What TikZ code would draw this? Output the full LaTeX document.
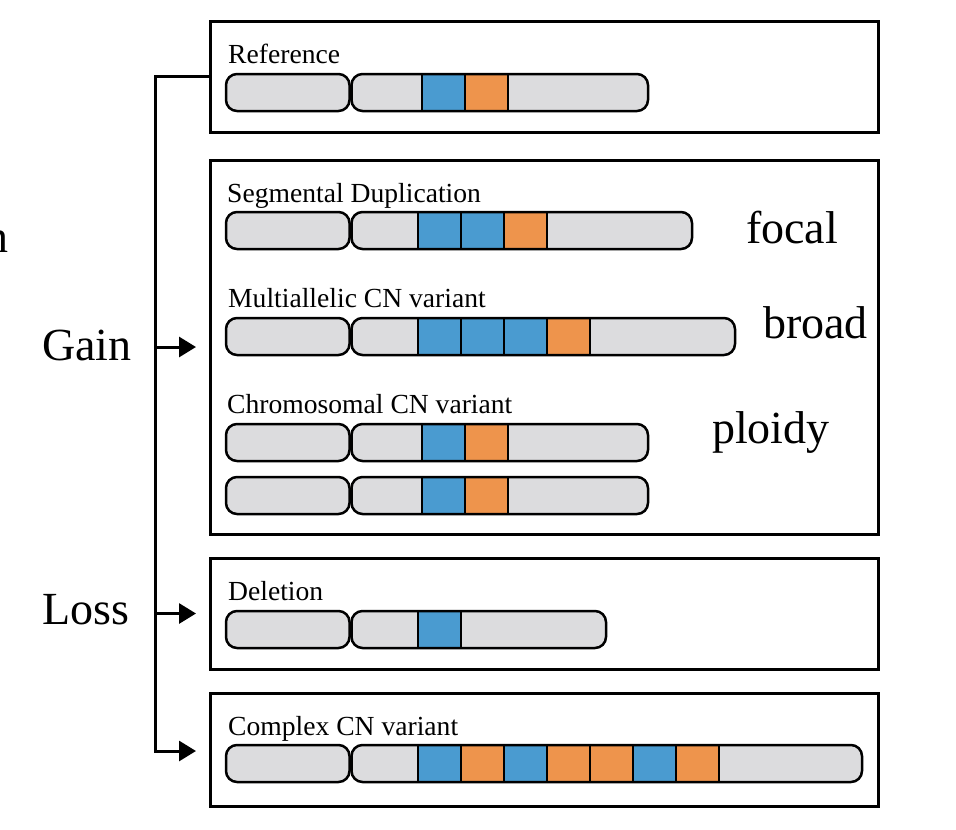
\documentclass[tikz,border=0pt]{standalone}
\usepackage{fontspec}
\setmainfont{Liberation Serif}
\usetikzlibrary{arrows.meta}
\definecolor{cgrey}{HTML}{DCDCDE}
\definecolor{cblue}{HTML}{4A9BD0}
\definecolor{corange}{HTML}{EE944C}
\tikzset{
 panel/.style={draw,line width=3pt,rectangle,minimum width=668pt,anchor=north west,inner sep=0pt,outer sep=0pt},
 lab/.style={anchor=base west,inner sep=0pt,font=\fontsize{27.6}{30}\selectfont},
 big/.style={anchor=base west,inner sep=0pt,font=\fontsize{46}{50}\selectfont},
 arm/.style={draw,line width=2.5pt,rounded corners=11pt},
 conn/.style={line width=3pt},
 tip/.style={-{Triangle[length=17pt,width=20pt]},shorten >=14pt}
}
% #1 top y, #2 end x, #3 first segment x, #4 colour list
\newcommand{\chromo}[4]{%
 \fill[cgrey,rounded corners=11pt] (226,#1) rectangle (349.5,{#1+37});
 \fill[cgrey,rounded corners=11pt] (351.5,#1) rectangle (#2,{#1+37});
 \foreach \c [count=\i from 0] in {#4} {
  \fill[\c] ({#3+43*\i},#1) rectangle ({#3+43*(\i+1)},{#1+37});
  \draw[line width=2.5pt] ({#3+43*\i},#1) -- ({#3+43*\i},{#1+37});
  \draw[line width=2.5pt] ({#3+43*(\i+1)},#1) -- ({#3+43*(\i+1)},{#1+37});
 }
 \draw[arm] (226,#1) rectangle (349.5,{#1+37});
 \draw[arm] (351.5,#1) rectangle (#2,{#1+37});
}
\begin{document}
\begin{tikzpicture}[x=1pt,y=-1pt]
\useasboundingbox (0,0) rectangle (956,830);
% panels
\node[panel,minimum height=111pt] (ref) at (210,21) {};
\node[panel,minimum height=374pt] (gain) at (210,160) {};
\node[panel,minimum height=111pt] (del) at (210,558) {};
\node[panel,minimum height=113pt] (cplx) at (210,693) {};
% labels
\node[lab] (reflab) at (228,63) {Reference};
\node[lab] (seglab) at (227,202) {Segmental Duplication};
\node[lab] (multlab) at (228,307) {Multiallelic CN variant};
\node[lab] (chrlab) at (227,413) {Chromosomal CN variant};
\node[lab] (dellab) at (228,600) {Deletion};
\node[lab] (cpxlab) at (228,735) {Complex CN variant};
\node[big] (focal) at (746,243) {focal};
\node[big] (broad) at (763,338) {broad};
\node[big] (ploidy) at (712,443) {ploidy};
\node[big] (gainlab) at (42,360) {Gain};
\node[big] (losslab) at (42,624) {Loss};
\node[big,anchor=base east] (frag) at (9,252) {n};
% chromosomes
\chromo{74}{648}{422}{cblue,corange}
\chromo{212}{692}{418}{cblue,cblue,corange}
\chromo{318}{735}{418}{cblue,cblue,cblue,corange}
\chromo{424}{648}{422}{cblue,corange}
\chromo{477}{648}{422}{cblue,corange}
\chromo{611}{606}{418}{cblue}
\chromo{745}{862}{418}{cblue,corange,cblue,corange,corange,cblue,corange}
% connectors
\coordinate (bustop) at (155,76.5);
\coordinate (busbot) at (155,751);
\draw[conn,tip] (ref.west) -- (bustop) -- (busbot) -- (busbot -| cplx.west);
\draw[conn,tip] (bustop |- gain.west) -- (gain.west);
\draw[conn,tip] (bustop |- del.west) -- (del.west);
\end{tikzpicture}
\end{document}
